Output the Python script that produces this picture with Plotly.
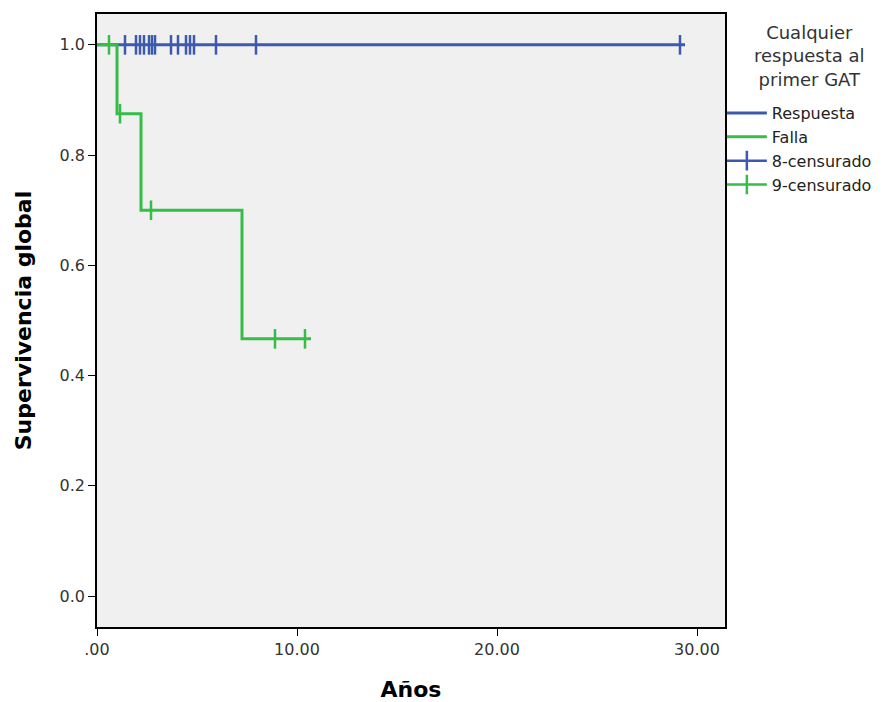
import plotly.graph_objects as go

# Data
resp_times = [0.0, 29.4]
resp_surv = [1.0, 1.0]
resp_cens_t = [1.4, 1.95, 2.15, 2.35, 2.6, 2.75, 2.9, 3.7, 4.05, 4.45, 4.65, 4.85, 5.95, 7.95, 29.15]
resp_cens_s = [1.0] * len(resp_cens_t)

falla_times = [0.0, 1.0, 2.2, 7.25, 10.7]
falla_surv = [1.0, 0.875, 0.7, 0.4667, 0.4667]
falla_cens_t = [0.6, 1.15, 2.7, 8.9, 10.4]
falla_cens_s = [1.0, 0.875, 0.7, 0.4667, 0.4667]

x_ticks = [0, 10, 20, 30]
x_ticklabels = [".00", "10.00", "20.00", "30.00"]
y_ticks = [0.0, 0.2, 0.4, 0.6, 0.8, 1.0]
y_ticklabels = ["0.0", "0.2", "0.4", "0.6", "0.8", "1.0"]

legend_title = "Cualquier<br>respuesta al<br>primer GAT"

BLUE = "#3c5aad"
GREEN = "#36bd47"
FONT = "DejaVu Sans, Liberation Sans, Arial"


def gapped(xs, ys):
    gx, gy = [], []
    for a, b in zip(xs, ys):
        gx += [a, None]
        gy += [b, None]
    return gx, gy


fig = go.Figure()
fig.add_trace(go.Scatter(x=resp_times, y=resp_surv, mode="lines", line_shape="hv",
                         line=dict(color=BLUE, width=3), name="Respuesta"))
fig.add_trace(go.Scatter(x=falla_times, y=falla_surv, mode="lines", line_shape="hv",
                         line=dict(color=GREEN, width=3), name="Falla"))
bx, by = gapped(resp_cens_t, resp_cens_s)
fig.add_trace(go.Scatter(x=bx, y=by, mode="lines+markers", connectgaps=False,
                         line=dict(color=BLUE, width=2.5),
                         marker=dict(symbol="line-ns", size=14, line=dict(color=BLUE, width=2.5)),
                         name="8-censurado"))
gx, gy = gapped(falla_cens_t, falla_cens_s)
fig.add_trace(go.Scatter(x=gx, y=gy, mode="lines+markers", connectgaps=False,
                         line=dict(color=GREEN, width=2.5),
                         marker=dict(symbol="line-ns", size=14, line=dict(color=GREEN, width=2.5)),
                         name="9-censurado"))

axis_common = dict(showline=True, linecolor="black", linewidth=1.5, mirror=True,
                   ticks="outside", ticklen=7, tickcolor="black", tickwidth=1,
                   showgrid=False, zeroline=False,
                   tickfont=dict(family=FONT, size=16, color="#333"))

fig.update_layout(
    width=883, height=694,
    margin=dict(l=89, r=166, t=4, b=75),
    paper_bgcolor="white", plot_bgcolor="#f0f0f0",
    font=dict(family=FONT, color="#222"),
    xaxis=dict(range=[0, 31.4], tickvals=x_ticks, ticktext=x_ticklabels,
               title=dict(text="<b>Años</b>", font=dict(family=FONT, size=22, color="black"), standoff=24),
               **axis_common),
    yaxis=dict(range=[-0.056, 1.056], tickvals=y_ticks, ticktext=y_ticklabels,
               title=dict(text="<b>Supervivencia global</b>", font=dict(family=FONT, size=22, color="black"), standoff=22),
               **axis_common),
    legend=dict(x=0.995, xanchor="left", y=0.866, yanchor="top",
                font=dict(family=FONT, size=16, color="#222"), itemwidth=40, tracegroupgap=0,
                bgcolor="rgba(0,0,0,0)"),
    showlegend=True,
    annotations=[dict(text=legend_title, xref="paper", yref="paper", x=1.135, y=0.99,
                      xanchor="center", yanchor="top", showarrow=False, align="center",
                      font=dict(family=FONT, size=18, color="#333"))],
)

fig.write_html("out.html")
